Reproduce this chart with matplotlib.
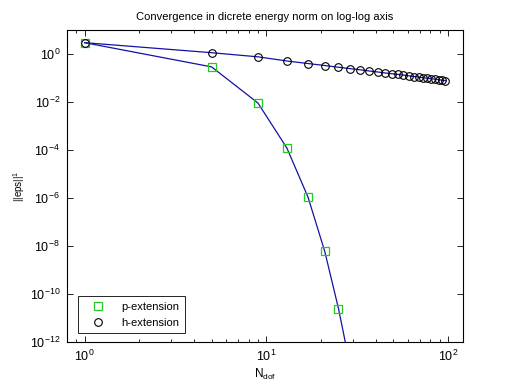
import matplotlib
matplotlib.use('Agg')
import matplotlib.pyplot as plt
from matplotlib.ticker import LogLocator, NullLocator

plt.rcParams['font.family'] = ['Liberation Sans', 'DejaVu Sans']
plt.rcParams['mathtext.default'] = 'regular'

# degrees of freedom
n_dof_p = [1, 5, 9, 13, 17, 21, 25, 29]
n_dof_h = [1, 5, 9, 13, 17, 21, 25, 29, 33, 37, 41, 45, 49, 53, 57, 61,
           65, 69, 73, 77, 81, 85, 89, 93, 97]

# error in discrete energy norm
err_p = [2.95, 0.29, 9.1e-3, 1.2e-4, 1.07e-6, 6.0e-9, 2.5e-11, 1.0e-13]
err_h = [2.95, 1.13, 0.76, 0.51, 0.40, 0.33, 0.28, 0.245, 0.219, 0.195,
         0.178, 0.162, 0.151, 0.141, 0.132, 0.123, 0.115, 0.110, 0.102,
         0.098, 0.093, 0.089, 0.085, 0.081, 0.078]

fig = plt.figure(figsize=(5.12, 3.84), dpi=100)
ax = fig.add_axes([0.131, 0.109, 0.773, 0.813])

line_col = '#1212a8'
ax.loglog(n_dof_p, err_p, 's', mfc='none', mec='#22cc22', ms=5.5, mew=0.9,
          label='p-extension', zorder=3)
ax.loglog(n_dof_h, err_h, 'o', mfc='none', mec='black', ms=5.5, mew=0.8,
          label='h-extension', zorder=3)
ax.loglog(n_dof_p, err_p, '-', color=line_col, lw=0.9, zorder=2)
ax.loglog(n_dof_h, err_h, '-', color=line_col, lw=0.9, zorder=2)

ax.set_xlim(0.8, 121)
ax.set_ylim(1e-12, 10)
ax.set_yticks([1e-12, 1e-10, 1e-8, 1e-6, 1e-4, 1e-2, 1e0])
ax.yaxis.set_minor_locator(NullLocator())
ax.xaxis.set_minor_locator(LogLocator(base=10, subs=range(2, 10)))

ax.tick_params(which='both', direction='in', top=True, right=True,
               labelsize=9, width=0.6)
ax.tick_params(which='major', length=4, pad=5)
ax.tick_params(which='minor', length=2)
for s in ax.spines.values():
    s.set_linewidth(0.8)

ax.set_title('Convergence in dicrete energy norm on log-log axis', fontsize=8, pad=7)
ax.set_xlabel('N$_{dof}$', fontsize=8.5, labelpad=2)
ax.set_ylabel('||eps||$^1$', fontsize=7, labelpad=2)

leg = ax.legend(loc='lower left', bbox_to_anchor=(0.028, 0.029), borderaxespad=0,
                fontsize=8, fancybox=False, edgecolor='black', framealpha=1,
                handlelength=2.6, handletextpad=0.8, borderpad=0.5,
                labelspacing=0.5)
leg.get_frame().set_linewidth(0.6)

fig.savefig('out.png', dpi=100)
